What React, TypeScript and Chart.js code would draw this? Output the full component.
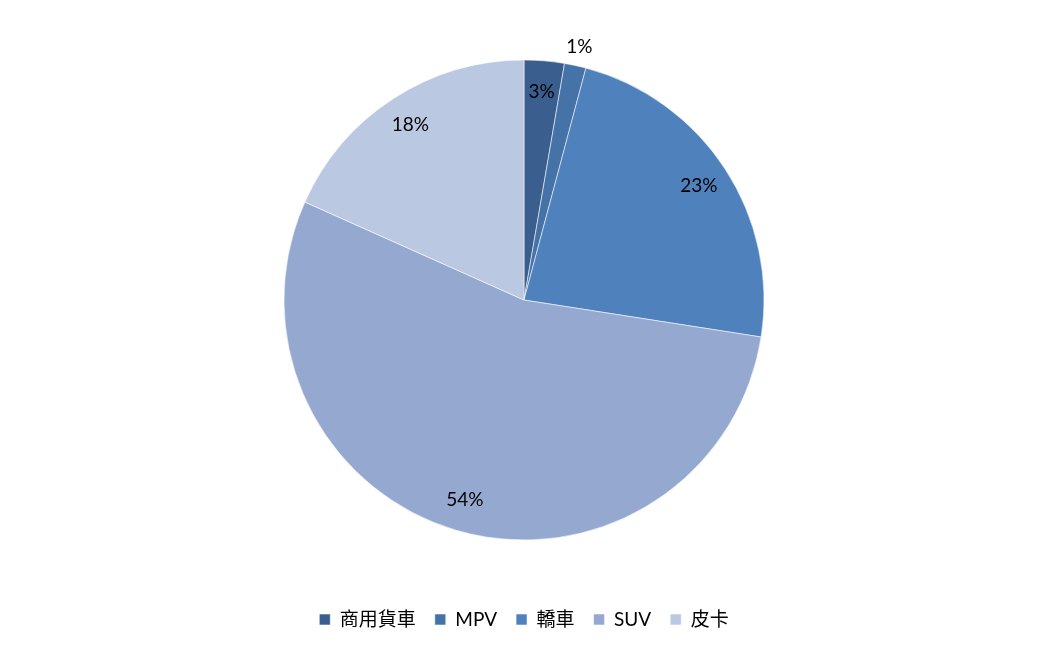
import React, { useEffect, useRef } from "react";
import { Chart, registerables } from "chart.js";

Chart.register(...registerables);

const categories = ["商用貨車", "MPV", "轎車", "SUV", "皮卡"];
const shares = [2.7, 1.45, 23.3, 54.2, 18.3];
const sliceColors = ["#3A5F8F", "#4572A7", "#4F81BD", "#95A9D0", "#BBC8E1"];

const FONT = "Lato, 'Noto Sans CJK TC', sans-serif";

const labelPlugin = {
  id: "pctLabels",
  afterDatasetsDraw(chart: any) {
    const ctx = chart.ctx;
    const meta = chart.getDatasetMeta(0);
    const data = chart.data.datasets[0].data as number[];
    const total = data.reduce((a: number, b: number) => a + b, 0);
    ctx.save();
    ctx.font = "19px " + FONT;
    ctx.fillStyle = "#000";
    ctx.textAlign = "center";
    ctx.textBaseline = "middle";
    meta.data.forEach((arc: any, i: number) => {
      const p = arc.getProps(["x", "y", "startAngle", "endAngle", "outerRadius"], true);
      const mid = (p.startAngle + p.endAngle) / 2;
      const pct = (data[i] / total) * 100;
      const r = pct < 2 ? p.outerRadius * 1.08 : p.outerRadius * 0.87;
      const x = p.x + Math.cos(mid) * r;
      const y = p.y + Math.sin(mid) * r;
      ctx.fillText(Math.round(pct) + "%", x, y);
    });
    ctx.restore();
  },
};

export default function App() {
  const ref = useRef<HTMLCanvasElement>(null);
  useEffect(() => {
    if (!ref.current) return;
    const chart = new Chart(ref.current, {
      type: "pie",
      data: {
        labels: categories,
        datasets: [
          {
            data: shares,
            backgroundColor: sliceColors,
            borderColor: "rgba(255,255,255,0.55)",
            borderWidth: 1,
            radius: 240,
          } as any,
        ],
      },
      options: {
        animation: false,
        responsive: true,
        maintainAspectRatio: false,
        layout: { padding: { top: 9, bottom: 11, left: 0, right: 0 } },
        plugins: {
          tooltip: { enabled: false },
          legend: {
            position: "bottom",
            labels: {
              boxWidth: 11,
              boxHeight: 11,
              padding: 19,
              color: "#000",
              font: { family: FONT, size: 19 },
            },
          },
        },
      },
      plugins: [labelPlugin],
    });
    return () => chart.destroy();
  }, []);
  return (
    <div style={{ position: "absolute", left: 0, top: 0, width: 1048, height: 650, background: "#fff" }}>
      <canvas ref={ref} />
    </div>
  );
}
